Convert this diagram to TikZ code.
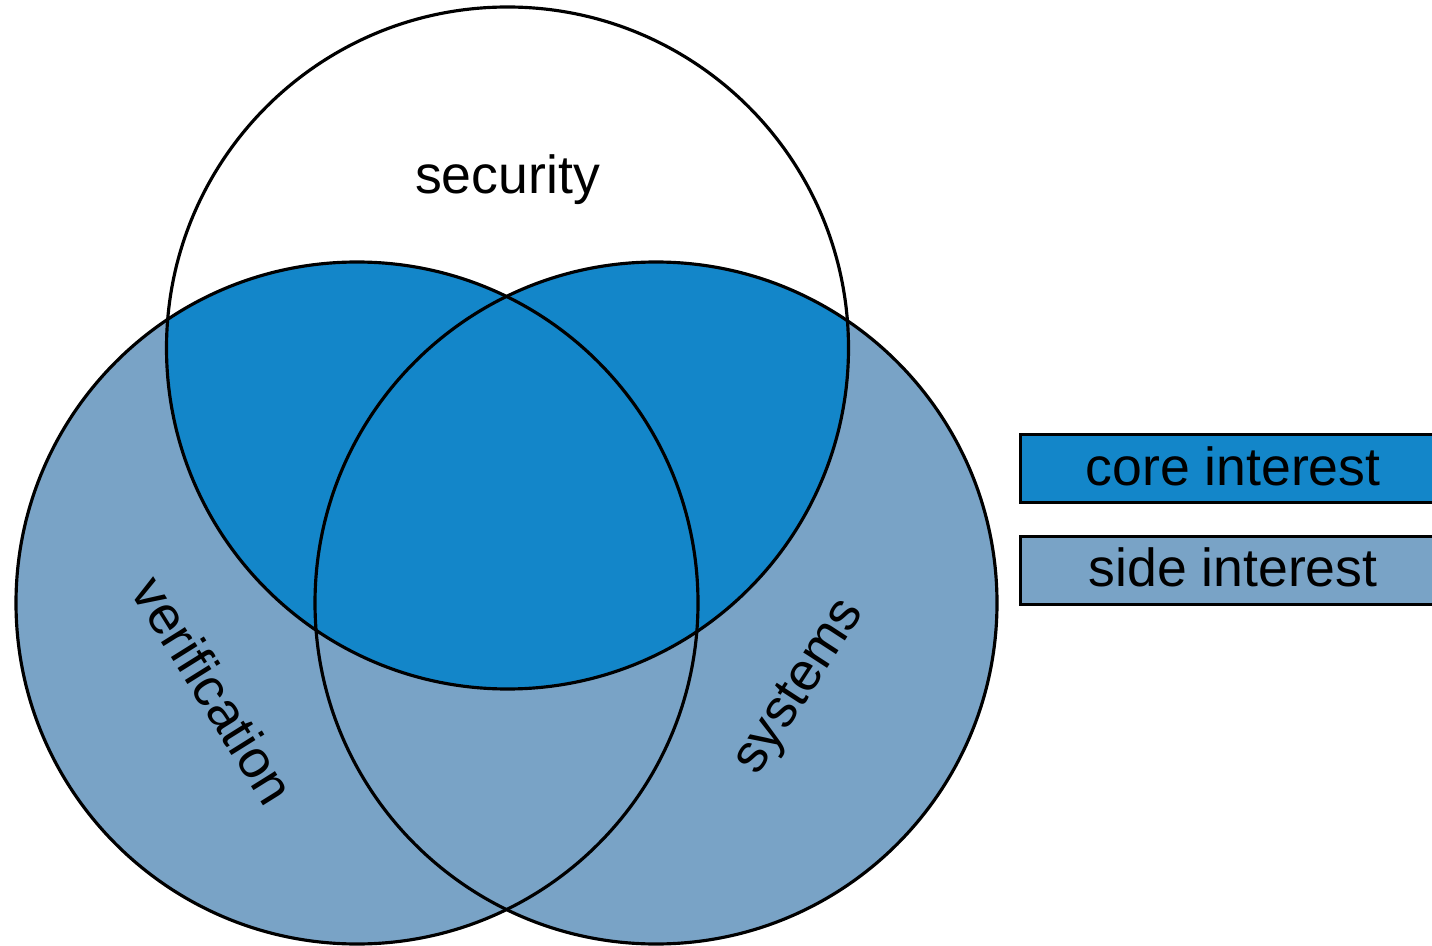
\documentclass[tikz,border=0pt]{standalone}
\usepackage{fontspec}
\setmainfont{Liberation Sans}
\usepackage{xcolor}
\usetikzlibrary{positioning}

\definecolor{coreblue}{RGB}{19,134,201}
\definecolor{sideblue}{RGB}{121,163,198}

\begin{document}
\begin{tikzpicture}[font=\fontsize{30.5}{36}\selectfont, line width=1.8pt]
    \useasboundingbox (0,0) rectangle (28.64,18.9);
    \coordinate (sec) at (10.15,11.94);
    \coordinate (ver) at (7.14,6.84);
    \coordinate (sys) at (13.12,6.84);
    \def\rad{6.82}

    % side interest: verification and systems
    \fill [sideblue] (ver) circle (\rad);
    \fill [sideblue] (sys) circle (\rad);
    % core interest: where security meets them
    \begin{scope}
        \clip (sec) circle (\rad);
        \fill [coreblue] (ver) circle (\rad);
        \fill [coreblue] (sys) circle (\rad);
    \end{scope}
    \draw (sec) circle (\rad);
    \draw (ver) circle (\rad);
    \draw (sys) circle (\rad);

    \node (security) at (10.15,15.3) {security};
    \node (verification) [rotate=-58] at (4.28,5.1) {verification};
    \node (systems) [rotate=57] at (16.02,5.14) {systems};

    % legend
    \node (core) [rectangle, draw, fill=coreblue, anchor=north west, minimum width=8.8cm, minimum height=1.36cm, inner sep=0pt] at (20.38,10.24) {};
    \node (side) [rectangle, draw, fill=sideblue, below=0.62cm of core.south west, anchor=north west, minimum width=8.8cm, minimum height=1.36cm, inner sep=0pt] {};
    \node at (24.66,9.58) {core interest};
    \node at (24.66,7.56) {side interest};
\end{tikzpicture}
\end{document}
